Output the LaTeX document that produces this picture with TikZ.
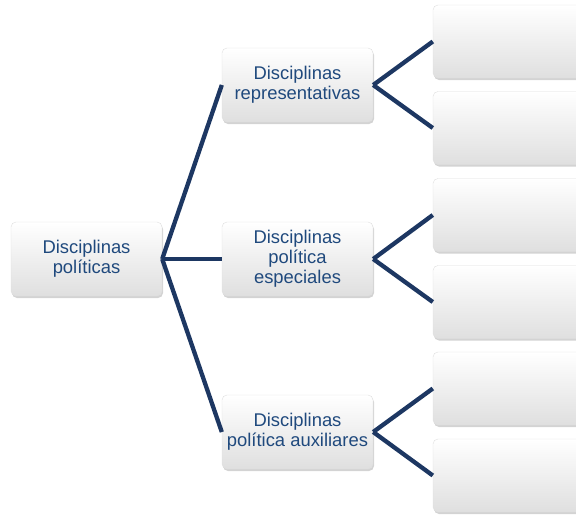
\documentclass[tikz,border=0pt]{standalone}
\usepackage{fontspec}
\setmainfont{Liberation Sans}
\usetikzlibrary{shadows}
\definecolor{navy}{RGB}{29,55,98}
\definecolor{txtblue}{RGB}{31,73,125}
\tikzstyle{box}=[rounded corners=5pt, draw=gray!25, top color=white, bottom color=gray!25,
  drop shadow={opacity=0.35,shadow xshift=1pt,shadow yshift=-2pt},
  text=txtblue, align=center, font=\fontsize{18.4}{20}\selectfont,
  minimum width=151pt, minimum height=74pt, inner sep=2pt]
\tikzstyle{leaf}=[box, minimum width=160pt, minimum height=73pt]
\tikzset{link/.style={draw=navy, line width=4.3pt}}

\begin{document}
\begin{tikzpicture}[x=1pt,y=-1pt]
    \clip (0,0) rectangle (576,517);
    \node[box] (root) at (86.5,259) {Disciplinas\\políticas};
    \node[box] (rep) at (297.5,85) {Disciplinas\\representativas};
    \node[box] (esp) at (297.5,259) {Disciplinas\\política\\especiales};
    \node[box] (aux) at (297.5,432) {Disciplinas\\política auxiliares};
    \foreach \i/\y in {1/41.5,2/128,3/215,4/302,5/388.5,6/475.5}
      \node[leaf] (leaf\i) at (513,\y) {};

    \draw[link] (root.east) -- (rep.west);
    \draw[link] (root.east) -- (esp.west);
    \draw[link] (root.east) -- (aux.west);
    \draw[link] (rep.east) -- (leaf1.west);
    \draw[link] (rep.east) -- (leaf2.west);
    \draw[link] (esp.east) -- (leaf3.west);
    \draw[link] (esp.east) -- (leaf4.west);
    \draw[link] (aux.east) -- (leaf5.west);
    \draw[link] (aux.east) -- (leaf6.west);
  \end{tikzpicture}
\end{document}
